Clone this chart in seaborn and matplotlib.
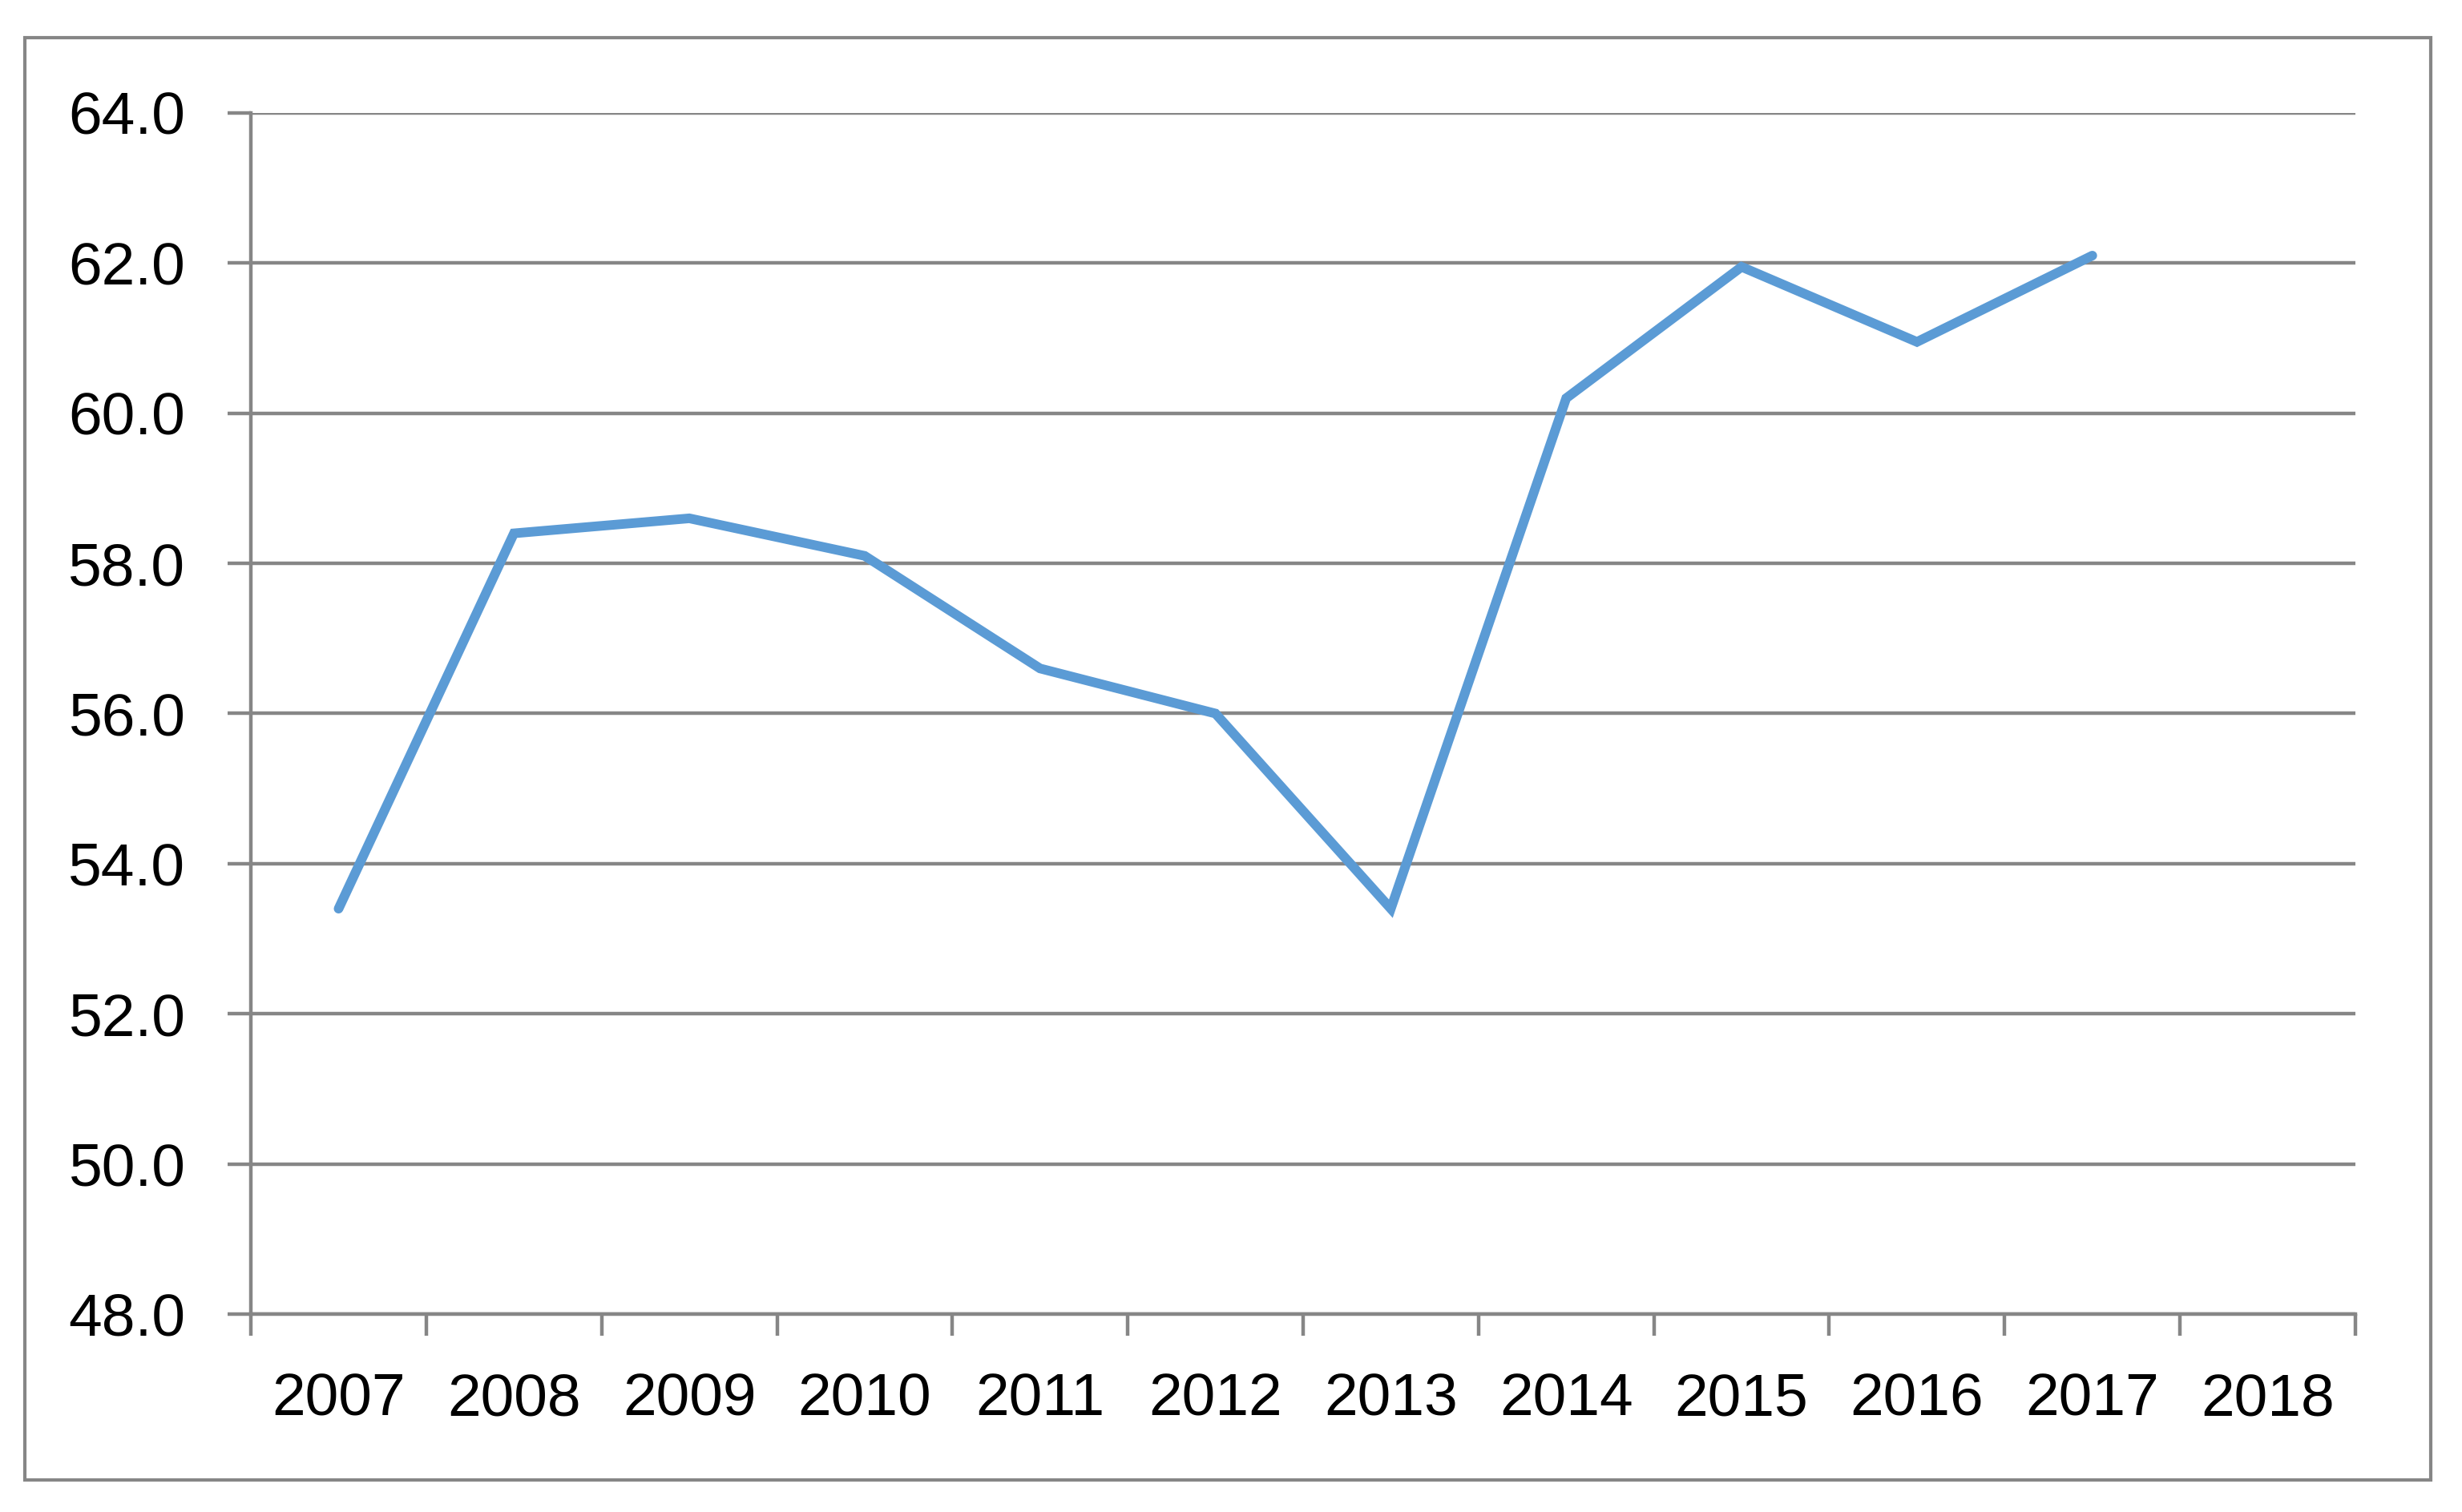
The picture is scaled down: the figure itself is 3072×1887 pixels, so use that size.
import numpy as np
import pandas as pd
import matplotlib
matplotlib.use('Agg')
import matplotlib.pyplot as plt
from matplotlib.patches import Rectangle
import seaborn as sns

# data
years = ['2007', '2008', '2009', '2010', '2011', '2012',
         '2013', '2014', '2015', '2016', '2017', '2018']
values = [53.4, 58.4, 58.6, 58.1, 56.6, 56.0,
          53.4, 60.2, 61.95, 60.95, 62.1, np.nan]
yticks = [48, 50, 52, 54, 56, 58, 60, 62, 64]

frame = pd.DataFrame({'pos': np.arange(len(years)), 'value': values})

sns.set_style('white')
plt.rcParams['font.family'] = ['Liberation Sans', 'DejaVu Sans']

grey = '#868686'
fig = plt.figure(figsize=(15.36, 9.435), dpi=200)
ax = fig.add_axes([0.1019, 0.1309, 0.8548, 0.7944])

sns.lineplot(data=frame.dropna(), x='pos', y='value', ax=ax,
             color='#5B9BD5', linewidth=4.3, solid_capstyle='round',
             solid_joinstyle='miter')

ax.set_xlim(-0.5, len(years) - 0.5)
ax.set_ylim(48, 64)
ax.set_yticks(yticks)
ax.set_yticklabels([f'{v:.1f}' for v in yticks])
ax.set_xticks(np.arange(len(years)))
ax.set_xticklabels(years)
ax.set_xticks(np.arange(len(years) + 1) - 0.5, minor=True)
ax.set_xlabel('')
ax.set_ylabel('')

ax.grid(axis='y', color=grey, linewidth=1.6)
ax.set_axisbelow(True)
for side in ['top', 'right']:
    ax.spines[side].set_visible(False)
for side in ['left', 'bottom']:
    ax.spines[side].set_color(grey)
    ax.spines[side].set_linewidth(1.6)

ax.tick_params(axis='y', which='major', length=10.4, width=1.6, color=grey,
               pad=19, labelsize=27, labelcolor='black', left=True)
ax.tick_params(axis='x', which='major', length=0, pad=26,
               labelsize=27, labelcolor='black')
ax.tick_params(axis='x', which='minor', length=9.7, width=1.6, color=grey,
               bottom=True)

fig.patches.append(Rectangle((0.0101, 0.0212), 0.9772, 0.9539,
                             transform=fig.transFigure, fill=False,
                             edgecolor=grey, linewidth=1.5))

fig.savefig('out.png', dpi=200)
